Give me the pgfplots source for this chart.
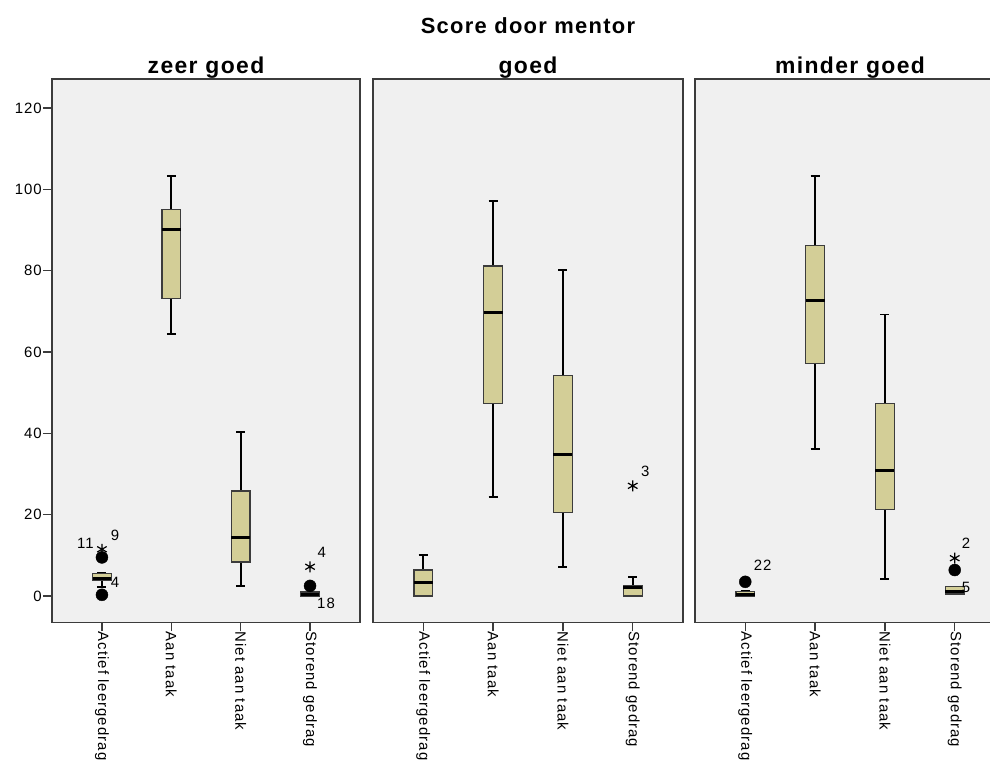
\documentclass[border=0pt]{standalone}
\usepackage{fontspec}
\setmainfont{Liberation Sans}[LetterSpace=7]
\newfontfamily\titlefont{Liberation Sans}[LetterSpace=6]
\usepackage{pgfplots}
\pgfplotsset{compat=1.18}
\usepgfplotslibrary{statistics}
\definecolor{boxfill}{RGB}{211,206,151}
\definecolor{panelbg}{RGB}{240,240,240}
\definecolor{frame}{RGB}{60,60,60}
\newcommand{\lf}{\fontsize{15}{15}\selectfont}
\tikzset{lbl/.style={font=\lf, inner sep=0pt}}
\pgfplotsset{
  panel/.style={
    scale only axis, height=543.5bp,
    xmin=-0.72, xmax=3.72, ymin=-6.5, ymax=127.1,
    axis background/.style={fill=panelbg},
    axis line style={frame, line width=1.6bp},
    xtick={0,1,2,3},
    xticklabels={Actief leergedrag, Aan taak, Niet aan taak, Storend gedrag},
    xticklabel style={rotate=-90, anchor=west, font=\lf, inner sep=0bp},
    yticklabel style={font=\lf, inner sep=1bp},
    /pgf/number format/assume math mode=true,
    tick align=outside, major tick length=9bp,
    tick style={frame, line width=1.4bp},
    xtick pos=bottom, ytick pos=left,
    boxplot/draw direction=y,
    boxplot/box extend=0.27, boxplot/whisker extend=0.13,
    boxplot/every box/.style={draw=frame, fill=boxfill, line width=1.3bp},
    boxplot/every whisker/.style={black, line width=1.9bp},
    boxplot/every median/.style={black, line width=3bp},
    clip=false,
  },
  circ/.style={only marks, mark=*, mark size=6bp, black},
  star/.style={only marks, mark=asterisk, mark size=5.5bp, black, line width=1.2bp},
}
\begin{document}
\begin{tikzpicture}
% Panel 1: zeer goed
\begin{axis}[panel, at={(52bp,146.5bp)}, anchor=south west, width=308bp,
  ytick={0,20,...,120}]
\addplot[boxplot prepared={draw position=0, lower whisker=2.3, lower quartile=3.8, median=4.2, upper quartile=5.6, upper whisker=5.6}] coordinates {};
\addplot[boxplot prepared={draw position=1, lower whisker=64.4, lower quartile=73.2, median=90.2, upper quartile=95.1, upper whisker=103.2}] coordinates {};
\addplot[boxplot prepared={draw position=2, lower whisker=2.5, lower quartile=8.4, median=14.3, upper quartile=25.8, upper whisker=40.3}] coordinates {};
\addplot[boxplot prepared={draw position=3, lower whisker=0, lower quartile=0, median=0.3, upper quartile=1, upper whisker=1}] coordinates {};
\addplot[circ] coordinates {(0,0.3) (0,9.5) (3,2.5)};
\addplot[star] coordinates {(0,11.5) (3,7.2)};
\node[lbl] at (axis cs:-0.24,13.0) {11};
\node[lbl] at (axis cs:0.19,15.0) {9};
\node[lbl] at (axis cs:0.19,3.4) {4};
\node[lbl] at (axis cs:3.17,10.8) {4};
\node[lbl] at (axis cs:3.23,-1.7) {18};
\end{axis}
% Panel 2: goed
\begin{axis}[panel, at={(373bp,146.5bp)}, anchor=south west, width=310bp,
  ytick=\empty]
\addplot[boxplot prepared={draw position=0, lower whisker=0, lower quartile=0, median=3.4, upper quartile=6.4, upper whisker=10.2}] coordinates {};
\addplot[boxplot prepared={draw position=1, lower whisker=24.4, lower quartile=47.4, median=69.7, upper quartile=81.1, upper whisker=97.2}] coordinates {};
\addplot[boxplot prepared={draw position=2, lower whisker=7.2, lower quartile=20.5, median=34.8, upper quartile=54.3, upper whisker=80.1}] coordinates {};
\addplot[boxplot prepared={draw position=3, lower whisker=0, lower quartile=0, median=2.2, upper quartile=2.5, upper whisker=4.6}] coordinates {};
\addplot[star] coordinates {(3,27.1)};
\node[lbl] at (axis cs:3.18,30.7) {3};
\end{axis}
% Panel 3: minder goed
\begin{axis}[panel, at={(695bp,146.5bp)}, anchor=south west, width=310bp,
  ytick=\empty]
\addplot[boxplot prepared={draw position=0, lower whisker=0, lower quartile=0, median=0.5, upper quartile=1.2, upper whisker=1.2}] coordinates {};
\addplot[boxplot prepared={draw position=1, lower whisker=36.2, lower quartile=57.2, median=72.7, upper quartile=86.1, upper whisker=103.2}] coordinates {};
\addplot[boxplot prepared={draw position=2, lower whisker=4.3, lower quartile=21.3, median=30.8, upper quartile=47.4, upper whisker=69.2}] coordinates {};
\addplot[boxplot prepared={draw position=3, lower whisker=0.5, lower quartile=0.5, median=1, upper quartile=2.3, upper whisker=2.3}] coordinates {};
\addplot[circ] coordinates {(0,3.5) (3,6.4)};
\addplot[star] coordinates {(3,9.3)};
\node[lbl] at (axis cs:0.25,7.6) {22};
\node[lbl] at (axis cs:3.16,13.0) {2};
\node[lbl] at (axis cs:3.16,2.2) {5};
\end{axis}
% titles
\node[anchor=base, font=\titlefont\fontsize{22}{22}\selectfont\bfseries] at (528bp,735.5bp) {Score door mentor};
\node[anchor=base, font=\titlefont\fontsize{23}{23}\selectfont\bfseries] at (206bp,695.5bp) {zeer goed};
\node[anchor=base, font=\titlefont\fontsize{23}{23}\selectfont\bfseries] at (528bp,695.5bp) {goed};
\node[anchor=base, font=\titlefont\fontsize{23}{23}\selectfont\bfseries] at (850bp,695.5bp) {minder goed};
\pgfresetboundingbox
\path[use as bounding box] (0,0) rectangle (990bp,769bp);
\end{tikzpicture}
\end{document}
